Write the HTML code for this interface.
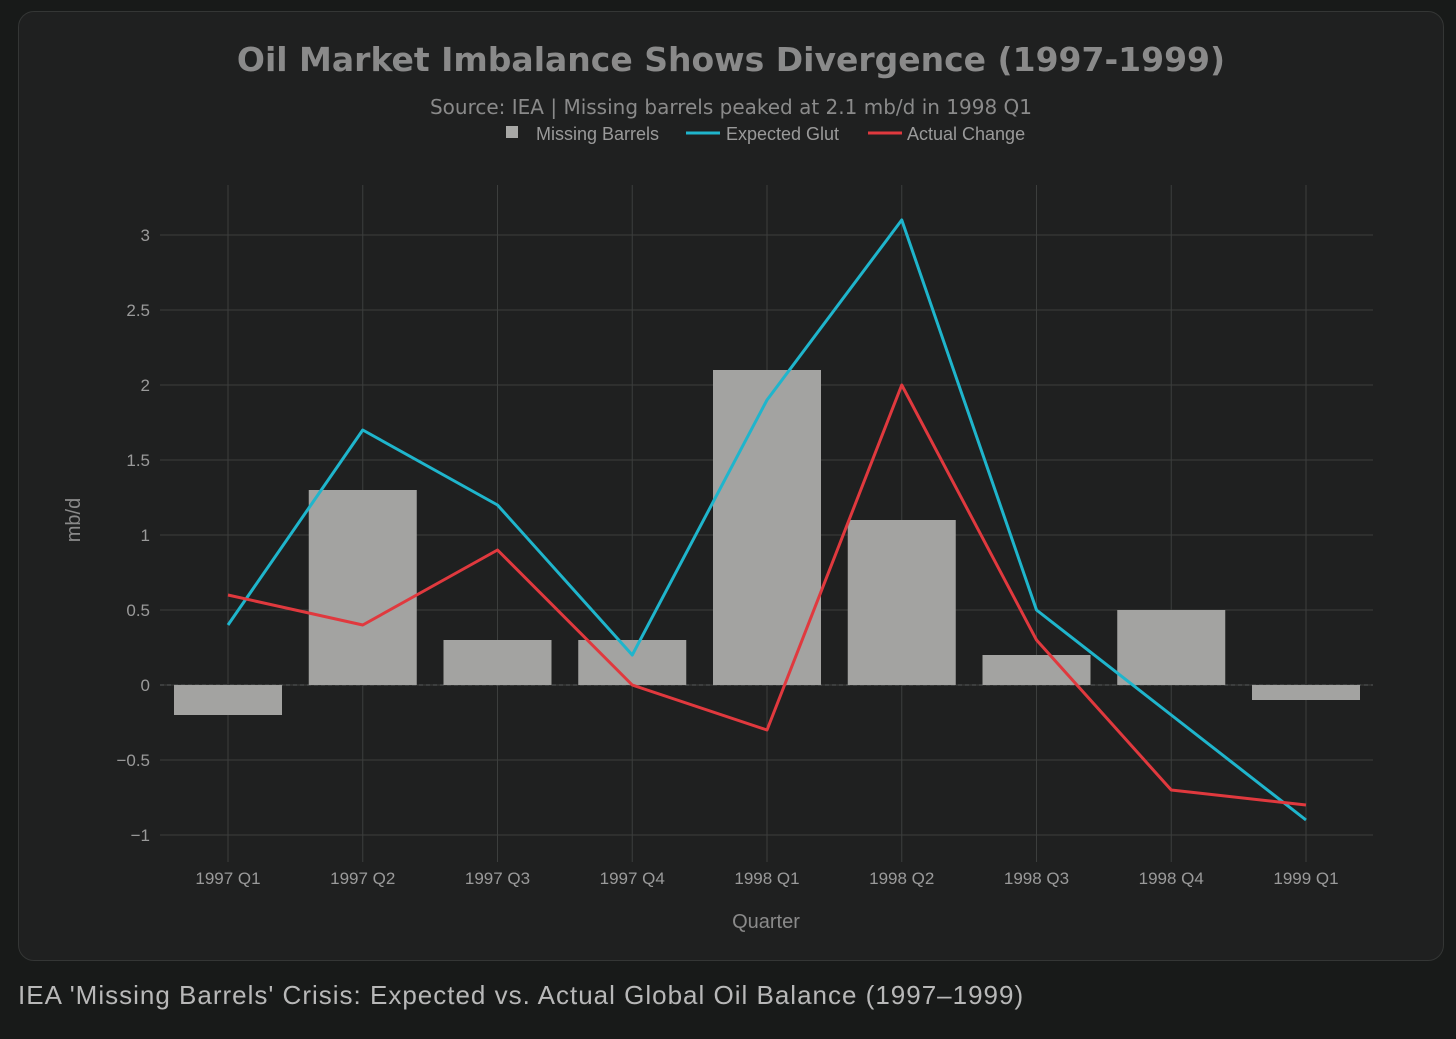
<!DOCTYPE html>
<html><head><meta charset="utf-8"><style>
body{margin:0;width:1456px;height:1039px;background:#181a19;font-family:"Liberation Sans","DejaVu Sans",sans-serif;overflow:hidden}
#card{position:absolute;left:18px;top:11px;width:1424px;height:948px;background:#1f2020;border:1px solid #343635;border-radius:16px}
#caption{position:absolute;left:18px;top:980px;font-size:26px;letter-spacing:1px;color:#b8b8b8}
</style></head><body>
<div id="card"></div>
<svg id="chart" width="1456" height="1039" style="position:absolute;left:0;top:0">
<text x="731" y="71" text-anchor="middle" font-size="33" font-weight="bold" fill="#8a8a8a" font-family="DejaVu Sans, sans-serif">Oil Market Imbalance Shows Divergence (1997-1999)</text>
<text x="731" y="114" text-anchor="middle" font-size="20" fill="#8a8a8a" font-family="DejaVu Sans, sans-serif">Source: IEA | Missing barrels peaked at 2.1 mb/d in 1998 Q1</text>
<g id="legend" font-size="18" fill="#9a9a9a">
<rect x="506" y="126" width="12" height="12" fill="#a8a8a6"/>
<text x="536" y="140">Missing Barrels</text>
<line x1="686" y1="133" x2="720" y2="133" stroke="#1fb5cc" stroke-width="3"/>
<text x="726" y="140">Expected Glut</text>
<line x1="868" y1="133" x2="902" y2="133" stroke="#e0393e" stroke-width="3"/>
<text x="907" y="140">Actual Change</text>
</g>
<g id="grid"></g><g id="bars"></g><g id="lines"></g><g id="axes"></g>
<text x="766" y="928" text-anchor="middle" font-size="20" fill="#8a8a8a">Quarter</text>
<text transform="translate(80,520) rotate(-90)" text-anchor="middle" font-size="20" fill="#8a8a8a">mb/d</text>
</svg>
<div id="caption">IEA 'Missing Barrels' Crisis: Expected vs. Actual Global Oil Balance (1997–1999)</div>
<script>
const categories=["1997 Q1","1997 Q2","1997 Q3","1997 Q4","1998 Q1","1998 Q2","1998 Q3","1998 Q4","1999 Q1"];
const missingBarrels=[-0.2,1.3,0.3,0.3,2.1,1.1,0.2,0.5,-0.1];
const expectedGlut=[0.4,1.7,1.2,0.2,1.9,3.1,0.5,-0.2,-0.9];
const actualChange=[0.6,0.4,0.9,0,-0.3,2.0,0.3,-0.7,-0.8];
const yTicks=[-1,-0.5,0,0.5,1,1.5,2,2.5,3];
const yTickLabels=["−1","−0.5","0","0.5","1","1.5","2","2.5","3"];
const NS="http://www.w3.org/2000/svg";
const plotL=160,plotR=1373,plotT=185,plotB=850;
const x0=228,step=134.75;
function xs(i){return x0+i*step;}
function ys(v){return 685-v*150;}
function mk(tag,attrs,parent){const e=document.createElementNS(NS,tag);for(const k in attrs)e.setAttribute(k,attrs[k]);document.getElementById(parent).appendChild(e);return e;}
yTicks.forEach((t,i)=>{
 const l=mk("line",{x1:plotL,x2:plotR,y1:ys(t),y2:ys(t),stroke:"#3c3e3d","stroke-width":1},"grid");
 
 
 const tx=mk("text",{x:150,y:ys(t)+6,"text-anchor":"end","font-size":17,fill:"#9a9a9a"},"axes");
 tx.textContent=yTickLabels[i];
 
 
});
categories.forEach((c,i)=>{
 const l=mk("line",{x1:xs(i),x2:xs(i),y1:plotT,y2:plotB+12,stroke:"#3c3e3d","stroke-width":1},"grid");
 
 
 const tx=mk("text",{x:xs(i),y:884,"text-anchor":"middle","font-size":17,fill:"#9a9a9a"},"axes");
 tx.textContent=c;
 
 
});
missingBarrels.forEach((v,i)=>{
 const y=Math.min(ys(v),ys(0)),h=Math.abs(ys(v)-ys(0));
 const r=mk("rect",{x:xs(i)-54,y:y,width:108,height:h,fill:"#a3a3a1"},"bars");
 
 
});
const z=mk("line",{x1:plotL,x2:plotR,y1:ys(0),y2:ys(0),stroke:"#5a5c5b","stroke-width":1,"stroke-dasharray":"4,3"},"grid");


function line(arr,color,name){
 const p=mk("polyline",{points:arr.map((v,i)=>xs(i)+","+ys(v)).join(" "),fill:"none",stroke:color,"stroke-width":3,"stroke-linejoin":"round"},"lines");
 
 
}
line(expectedGlut,"#1fb5cc","expected-glut-line");
line(actualChange,"#e0393e","actual-change-line");
</script>
</body></html>
